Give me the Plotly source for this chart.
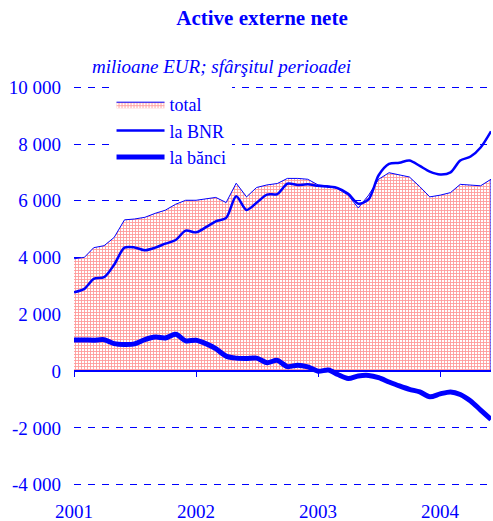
import pandas as pd
import plotly.graph_objects as go

# Monthly observations, end of period (Jan 2001 - Jun 2004)
months = pd.date_range("2001-01-01", periods=42, freq="MS")

total = [3960, 4010, 4350, 4420, 4710, 5330, 5360, 5420, 5560, 5670,
         5880, 6020, 6020, 6080, 6120, 5940, 6620, 6140, 6470, 6560,
         6610, 6790, 6790, 6760, 6560, 6530, 6420, 6200, 5750, 6200,
         6760, 6990, 6920, 6840, 6500, 6140, 6200, 6290, 6580, 6560,
         6530, 6760]

la_bnr = [2780, 2900, 3250, 3310, 3750, 4350, 4360, 4260, 4350, 4490,
          4620, 4950, 4890, 5080, 5280, 5400, 6160, 5680, 5930, 6220,
          6240, 6600, 6560, 6580, 6530, 6500, 6450, 6250, 5900, 6050,
          6900, 7300, 7340, 7420, 7230, 7030, 6930, 7000, 7420, 7560,
          7880, 8450]

la_banci = [1100, 1100, 1090, 1110, 970, 940, 960, 1110, 1200, 1170,
            1300, 1070, 1090, 960, 790, 530, 460, 450, 460, 300,
            380, 160, 210, 150, 0, 40, -120, -260, -170, -150,
            -230, -380, -520, -640, -730, -900, -800, -730, -820, -1050,
            -1370, -1700]

y_ticks = [-4000, -2000, 0, 2000, 4000, 6000, 8000, 10000]
y_labels = ["-4 000", "-2 000", "0", "2 000", "4 000", "6 000", "8 000", "10 000"]
year_ticks = ["2001-01-01", "2002-01-01", "2003-01-01", "2004-01-01"]
year_labels = ["2001", "2002", "2003", "2004"]

BLUE = "#0000ff"
FONT = "Liberation Serif"
# a little headroom so the outermost dashed gridlines are not clipped
Y_RANGE = [-4045, 10045]

x_list = list(months)
# closed polygon so the area gets an outline on every side
poly_x = x_list + [x_list[-1], x_list[0]]
poly_y = total + [0, 0]

fig = go.Figure()
fig.add_trace(go.Scatter(
    x=poly_x, y=poly_y, name="total", mode="lines",
    fill="toself", fillcolor="white",
    fillpattern=dict(shape="+", fgcolor="#ff3535", bgcolor="white",
                     size=3, solidity=0.5),
    line=dict(color=BLUE, width=1),
))
fig.add_trace(go.Scatter(
    x=x_list, y=la_bnr, name="la BNR", mode="lines",
    line=dict(color=BLUE, width=2.5, shape="spline", smoothing=0.8),
))
fig.add_trace(go.Scatter(
    x=x_list, y=la_banci, name="la bănci", mode="lines",
    line=dict(color=BLUE, width=5, shape="spline", smoothing=0.8),
))

x_range = [x_list[0], x_list[-1]]

# year labels sit under the plot area, centred on the year ticks
year_annotations = [
    dict(text=lab, x=tv, xref="x", y=0, yref="paper", yanchor="top",
         yshift=-13, showarrow=False,
         font=dict(family=FONT, size=19, color=BLUE))
    for tv, lab in zip(year_ticks, year_labels)
]

fig.update_layout(
    width=493, height=521,
    margin=dict(l=74, r=2, t=86, b=35),
    paper_bgcolor="white", plot_bgcolor="white",
    font=dict(family=FONT, size=19, color=BLUE),
    title=dict(text="<b>Active externe nete</b>", x=262 / 493, xanchor="center",
               y=1 - 18 / 521, yanchor="middle",
               font=dict(family=FONT, size=21, color=BLUE)),
    showlegend=True,
    legend=dict(x=0.09, y=1.0, xanchor="left", yanchor="top",
                bgcolor="white", borderwidth=0, itemwidth=48,
                entrywidth=88, entrywidthmode="pixels",
                tracegroupgap=0,
                font=dict(family=FONT, size=18, color=BLUE)),
    xaxis=dict(
        type="date", range=x_range, anchor="free",
        position=-Y_RANGE[0] / (Y_RANGE[1] - Y_RANGE[0]),
        showgrid=False, zeroline=False,
        showline=True, linecolor=BLUE, linewidth=2,
        tickmode="array", tickvals=year_ticks, ticks="outside",
        ticklen=5, tickwidth=1, tickcolor=BLUE, showticklabels=False,
    ),
    yaxis=dict(
        range=Y_RANGE, tickmode="array", tickvals=y_ticks, ticktext=y_labels,
        showgrid=True, gridcolor=BLUE, gridwidth=1, griddash="7px,7px",
        zeroline=False, showline=False, ticks="", ticklabelstandoff=12,
        tickfont=dict(family=FONT, size=19, color=BLUE),
    ),
    annotations=[dict(
        text="<i>milioane EUR; sfârşitul perioadei</i>",
        xref="paper", yref="paper", x=(90 - 74) / 417, y=1 + (86 - 67) / 400,
        xanchor="left", yanchor="middle", showarrow=False,
        font=dict(family=FONT, size=19, color=BLUE),
    )] + year_annotations,
)

fig.write_html("out.html")
